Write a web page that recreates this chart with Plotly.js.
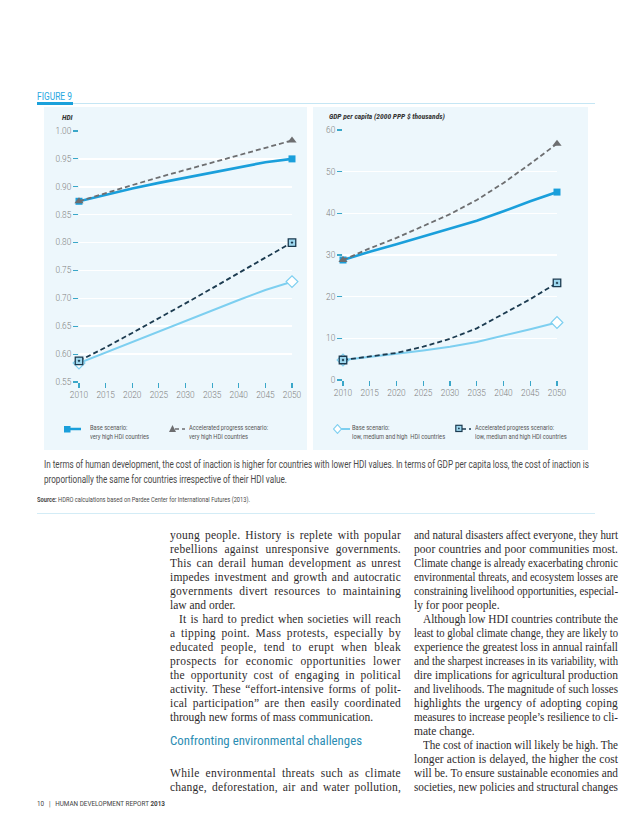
<!DOCTYPE html>
<html><head><meta charset="utf-8">
<script src="https://cdn.plot.ly/plotly-3.0.1.min.js"></script>
<style>
body{margin:0;width:638px;height:826px;background:#fff;position:relative;overflow:hidden;font-family:Roboto,"Liberation Sans",sans-serif}
.abs{position:absolute;white-space:nowrap}
.fit{display:inline-block;transform-origin:0 50%}
.ln{position:absolute;font-family:"Liberation Serif","DejaVu Serif",serif;font-size:11.5px;color:#2e2a2b;white-space:nowrap;line-height:14px;height:14px}
.ln span{display:inline-block;transform-origin:0 50%}
.chart{position:absolute}
.legsym{position:absolute}
.legtxt{position:absolute;font-size:7.2px;line-height:8.8px;color:#555;white-space:nowrap}
.legtxt span{display:inline-block;transform-origin:0 0}
</style></head>
<body>
<div class="abs" style="left:37px;top:91px;font-size:10px;color:#27a7df;line-height:12px"><span class="fit" data-w="35">FIGURE 9</span></div>
<div class="abs" style="left:37px;top:103px;width:558px;height:1px;background:#c5e6f4"></div>
<div class="abs" style="left:37px;top:102px;width:36px;height:3px;background:#1ba1db"></div>

<div id="c1" class="chart" style="left:44px;top:107px;width:263px;height:343px"></div>
<div id="c2" class="chart" style="left:313px;top:107px;width:275px;height:343px"></div>
<div id="legends"></div>

<div class="abs" style="left:44px;top:459px;font-size:10px;color:#4a4a4a;line-height:12px"><span class="fit" id="cap1">In terms of human development, the cost of inaction is higher for countries with lower HDI values. In terms of GDP per capita loss, the cost of inaction is</span></div>
<div class="abs" style="left:44px;top:474px;font-size:10px;color:#4a4a4a;line-height:12px"><span class="fit" id="cap2">proportionally the same for countries irrespective of their HDI value.</span></div>
<div class="abs" style="left:37px;top:496px;font-size:7px;color:#4a4a4a;line-height:9px"><span class="fit" data-w="213"><b>Source:</b> HDRO calculations based on Pardee Center for International Futures (2013).</span></div>
<div class="abs" style="left:37px;top:513px;width:558px;height:1px;background:#d3ecf6"></div>

<div id="body"></div>

<div class="abs" style="left:37px;top:799px;font-size:8px;color:#444;line-height:10px"><span class="fit" data-w="128">10&nbsp;&nbsp;&nbsp;|&nbsp;&nbsp;&nbsp;HUMAN DEVELOPMENT REPORT <b>2013</b></span></div>

<script>
// ---------- data ----------
const years = [2010, 2015, 2020, 2025, 2030, 2035, 2040, 2045, 2050];
const hdiBaseVeryHigh = [0.874, 0.886, 0.897, 0.907, 0.916, 0.925, 0.935, 0.944, 0.950];
const hdiAccVeryHigh  = [0.874, 0.889, 0.903, 0.917, 0.930, 0.944, 0.957, 0.970, 0.983];
const hdiBaseLow      = [0.584, 0.603, 0.621, 0.640, 0.660, 0.679, 0.697, 0.715, 0.730];
const hdiAccLow       = [0.588, 0.612, 0.638, 0.664, 0.691, 0.718, 0.746, 0.773, 0.800];
const gdpBaseVeryHigh = [28.8, 30.8, 32.6, 34.5, 36.3, 38.2, 40.5, 42.9, 45.1];
const gdpAccVeryHigh  = [28.8, 31.6, 34.1, 36.9, 39.8, 43.2, 47.3, 51.9, 56.7];
const gdpBaseLow      = [4.8, 5.5, 6.3, 7.1, 8.0, 9.1, 10.6, 12.2, 13.8];
const gdpAccLow       = [4.8, 5.6, 6.5, 8.0, 9.9, 12.4, 15.8, 19.4, 23.3];
const seriesNames = [
  ['Base scenario:', 'very high HDI countries'],
  ['Accelerated progress scenario:', 'very high HDI countries'],
  ['Base scenario:', 'low, medium and high  HDI countries'],
  ['Accelerated progress scenario:', 'low, medium and high HDI countries']
];
const hdiTitle = 'HDI';
const gdpTitle = 'GDP per capita (2000 PPP $ thousands)';

// ---------- styles ----------
const COND = '"Roboto Condensed","Liberation Sans Narrow","DejaVu Sans Condensed",Roboto,sans-serif';
const styles = [
  {line:{color:'#1a9fdb', width:2.6}, marker:{symbol:'square', size:7, color:'#1a9fdb'}},
  {line:{color:'#6d6e70', width:1.8, dash:'5px,3px'}, marker:{symbol:'triangle-up', size:8, color:'#6d6e70'}},
  {line:{color:'#7dcff0', width:2}, marker:{symbol:'diamond', size:9, color:'#ffffff', line:{color:'#7dcff0', width:1.2}}},
  {line:{color:'#1c3b50', width:1.8, dash:'5px,3px'}, marker:{symbol:'square-dot', size:7.5, color:'#9ed8ef', line:{color:'#1c3b50', width:1.3}}}
];
const endOpacity = years.map((_, i) => (i === 0 || i === years.length - 1) ? 1 : 0);

function buildTraces(seriesList) {
  return seriesList.map((ys, k) => ({x: years, y: ys, type:'scatter', mode:'lines+markers', showlegend:false, cliponaxis:false,
      line: styles[k].line, marker: Object.assign({}, styles[k].marker, {opacity: endOpacity}), hoverinfo:'skip'}));
}
const tickFont = {family:'Roboto,sans-serif', size:8.3, color:'#808080', weight:300};
function axisX() {
  return {range:[2010, 2050], dtick:5, tick0:2010, showgrid:false, zeroline:false, showline:false,
    ticks:'outside', ticklen:5, tickwidth:1.2, tickcolor:'#3aa7c9', tickfont:tickFont, fixedrange:true};
}
function axisY(range, dtick, fmt) {
  return {range: range, dtick: dtick, tick0: range[0], tickformat: fmt, showgrid:true, gridcolor:'#ffffff', gridwidth:1.5,
    zeroline:false, showline:false, ticks:'outside', ticklen:5, tickwidth:1.2, tickcolor:'#3aa7c9', tickfont:tickFont, fixedrange:true};
}
const bg = '#edf7fc';
const titleFont = {family:COND, size:7.5, color:'#333', style:'italic', weight:'bold'};
const layout1 = {
  width:263, height:343, margin:{l:34.7, r:15, t:23.7, b:68.2},
  paper_bgcolor:bg, plot_bgcolor:'rgba(0,0,0,0)', showlegend:false,
  xaxis: axisX(), yaxis: axisY([0.55, 1.0], 0.05, '.2f'),
  annotations:[{text:hdiTitle, xref:'paper', yref:'paper', x:-0.088, y:1.055, xanchor:'left', yanchor:'middle', showarrow:false, font:titleFont}]
};
const layout2 = {
  width:275, height:343, margin:{l:30.3, r:31.3, t:23, b:69.5},
  paper_bgcolor:bg, plot_bgcolor:'rgba(0,0,0,0)', showlegend:false,
  xaxis: axisX(), yaxis: axisY([0, 60], 10, 'd'),
  annotations:[{text:gdpTitle, xref:'paper', yref:'paper', x:-0.076, y:1.052, xanchor:'left', yanchor:'middle', showarrow:false, font:titleFont}]
};
const cfg = {staticPlot:true, displayModeBar:false};
Plotly.newPlot('c1', buildTraces([hdiBaseVeryHigh, hdiAccVeryHigh, hdiBaseLow, hdiAccLow]), layout1, cfg);
Plotly.newPlot('c2', buildTraces([gdpBaseVeryHigh, gdpAccVeryHigh, gdpBaseLow, gdpAccLow]), layout2, cfg);

// ---------- legends (HTML) ----------
const legSvgs = [
  '<svg width="17" height="10"><line x1="3" y1="5" x2="17" y2="5" stroke="#1a9fdb" stroke-width="2.5"/><rect x="0" y="2" width="6.5" height="6.5" fill="#1a9fdb"/></svg>',
  '<svg width="17" height="10"><line x1="6" y1="5" x2="16" y2="5" stroke="#6d6e70" stroke-width="1.6" stroke-dasharray="4,3"/><polygon points="3.5,1 7,8 0,8" fill="#6d6e70"/></svg>',
  '<svg width="17" height="10"><line x1="8" y1="5" x2="17" y2="5" stroke="#7dcff0" stroke-width="2"/><polygon points="4.5,0.6 8.4,5 4.5,9.4 0.6,5" fill="#fff" stroke="#7dcff0" stroke-width="1.1"/></svg>',
  '<svg width="17" height="10"><line x1="7" y1="5" x2="16" y2="5" stroke="#1c3b50" stroke-width="1.6" stroke-dasharray="4,3"/><rect x="0.8" y="1.3" width="6.2" height="6.2" fill="#9ed8ef" stroke="#1c3b50" stroke-width="1.2"/><circle cx="3.9" cy="4.4" r="0.9" fill="#1c3b50"/></svg>'
];
const legPos = [[64, 90], [169, 189], [333, 352], [455, 475]];
const legEl = document.getElementById('legends');
const LEG_K = 0.8;
seriesNames.forEach((nm, i) => {
  const s = document.createElement('div');
  s.className = 'legsym';
  s.style.left = legPos[i][0] + 'px'; s.style.top = '424px';
  s.style.height = '10px'; s.style.lineHeight = '0';
  s.innerHTML = legSvgs[i];
  legEl.appendChild(s);
  const t = document.createElement('div');
  t.className = 'legtxt';
  t.style.left = legPos[i][1] + 'px'; t.style.top = '424px';
  t.innerHTML = `<span style="transform:scaleX(${LEG_K})">${nm[0]}<br>${nm[1].replace(/  /g,'&nbsp; ')}</span>`;
  legEl.appendChild(t);
});

// ---------- body text ----------
const leftLines = [
  ['young people. History is replete with popular',1],
  ['rebellions against unresponsive governments.',1],
  ['This can derail human development as unrest',1],
  ['impedes investment and growth and autocratic',1],
  ['governments divert resources to maintaining',1],
  ['law and order.',0],
  ['It is hard to predict when societies will reach',1,'i'],
  ['a tipping point. Mass protests, especially by',1],
  ['educated people, tend to erupt when bleak',1],
  ['prospects for economic opportunities lower',1],
  ['the opportunity cost of engaging in political',1],
  ['activity. These \u201ceffort-intensive forms of polit-',1],
  ['ical participation\u201d are then easily coordinated',1],
  ['through new forms of mass communication.',0],
  null,
  ['HEADING',0],
  null,
  ['While environmental threats such as climate',1],
  ['change, deforestation, air and water pollution,',1]
];
const rightLines = [
  ['and natural disasters affect everyone, they hurt',1],
  ['poor countries and poor communities most.',1],
  ['Climate change is already exacerbating chronic',1],
  ['environmental threats, and ecosystem losses are',1],
  ['constraining livelihood opportunities, especial-',1],
  ['ly for poor people.',0],
  ['Although low HDI countries contribute the',1,'i'],
  ['least to global climate change, they are likely to',1],
  ['experience the greatest loss in annual rainfall',1],
  ['and the sharpest increases in its variability, with',1],
  ['dire implications for agricultural production',1],
  ['and livelihoods. The magnitude of such losses',1],
  ['highlights the urgency of adopting coping',1],
  ['measures to increase people\u2019s resilience to cli-',1],
  ['mate change.',0],
  ['The cost of inaction will likely be high. The',1,'i'],
  ['longer action is delayed, the higher the cost',1],
  ['will be. To ensure sustainable economies and',1],
  ['societies, new policies and structural changes',1]
];
const bodyEl = document.getElementById('body');
const LINE0 = 535, LSTEP = 14.0, INDENT = 9;
function placeColumn(lines, x0, w) {
  lines.forEach((ln, i) => {
    if (!ln) return;
    const y = LINE0 + i * LSTEP;
    if (ln[0] === 'HEADING') {
      const d = document.createElement('div');
      d.className = 'abs';
      d.style.cssText = `left:${x0}px;top:${y-12}px;font-size:13px;line-height:16px;color:#2b8db3;font-family:${COND}`;
      d.innerHTML = '<span class="fit" data-w="192">Confronting environmental challenges</span>';
      bodyEl.appendChild(d);
      return;
    }
    const ind = ln[2] ? INDENT : 0;
    const d = document.createElement('div');
    d.className = 'ln';
    d.style.left = (x0 + ind) + 'px';
    d.style.top = (y - 7) + 'px';
    const s = document.createElement('span');
    s.textContent = ln[0];
    d.appendChild(s);
    bodyEl.appendChild(d);
    const target = w - ind;
    const nat = s.getBoundingClientRect().width;
    const spaces = (ln[0].match(/ /g) || []).length;
    const chars = ln[0].length;
    if (ln[1] && nat < target && spaces > 0) {
      const gap = target - nat;
      const ls = Math.min(0.35, (gap * 0.5) / chars);
      s.style.letterSpacing = ls + 'px';
      const nat2 = s.getBoundingClientRect().width;
      s.style.wordSpacing = Math.max(0, (target - nat2) / spaces) + 'px';
    } else if (nat > target) {
      s.style.transform = `scaleX(${target / nat})`;
    }
  });
}
placeColumn(leftLines, 170, 231);
placeColumn(rightLines, 414, 204);

// ---------- fit condensed labels ----------
document.querySelectorAll('.fit[data-w]').forEach(el => {
  const w = el.getBoundingClientRect().width;
  el.style.transform = `scaleX(${parseFloat(el.dataset.w) / w})`;
});
const c1 = document.getElementById('cap1'), c2 = document.getElementById('cap2');
const k = 545 / c1.getBoundingClientRect().width;
c1.style.transform = `scaleX(${k})`;
c2.style.transform = `scaleX(${k})`;
</script>
</body></html>
